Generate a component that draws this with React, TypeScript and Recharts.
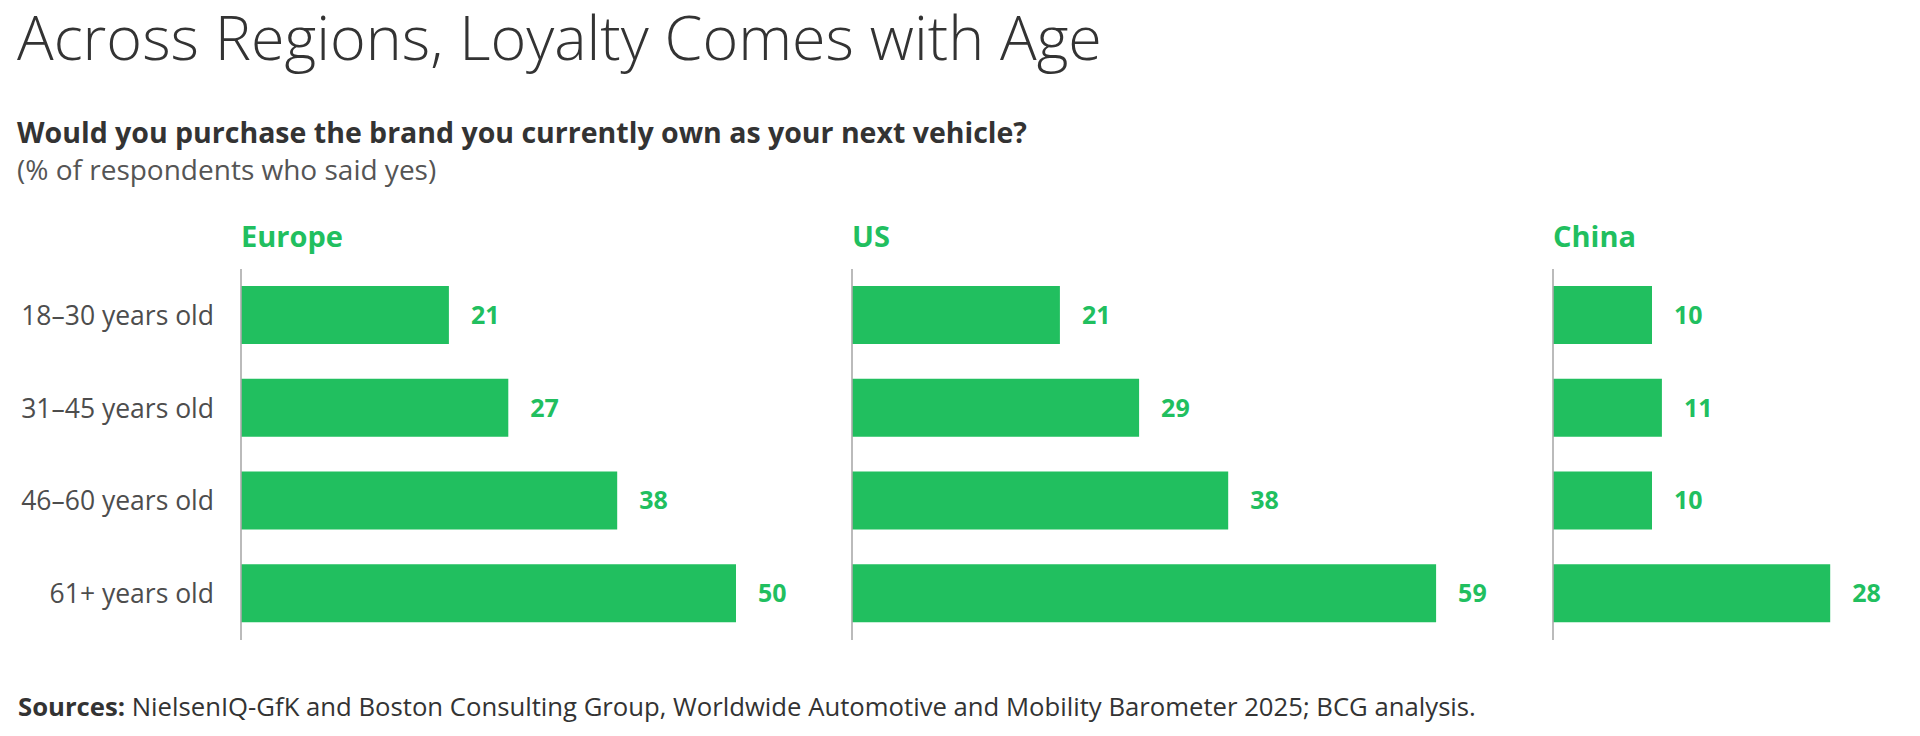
import React from 'react';
import { BarChart, Bar, XAxis, YAxis, LabelList } from 'recharts';

const ageGroups = ['18–30 years old', '31–45 years old', '46–60 years old', '61+ years old'];
const europeValues = [21, 27, 38, 50];
const usValues = [21, 29, 38, 59];
const chinaValues = [10, 11, 10, 28];
const regionNames = ['Europe', 'US', 'China'];

const GREEN = '#21BF5F';
const PX_PER_UNIT = 9.9;
const FONT = '"Open Sans", sans-serif';

type PanelProps = {
  values: number[];
  axisX: number;
  yWidth: number;
  domainMax: number;
  showLabels: boolean;
};

function Panel({ values, axisX, yWidth, domainMax, showLabels }: PanelProps) {
  const data = ageGroups.map((g, i) => ({ group: g, value: values[i] }));
  const plotW = domainMax * PX_PER_UNIT;
  const rightM = 70;
  const width = yWidth + plotW + rightM;
  return (
    <div style={{ position: 'absolute', left: axisX - yWidth, top: 269 }}>
      <BarChart
        width={width}
        height={371}
        data={data}
        layout="vertical"
        margin={{ top: 0, right: rightM, bottom: 0, left: 0 }}
        barSize={58}
      >
        <XAxis type="number" domain={[0, domainMax]} allowDataOverflow hide />
        <YAxis
          type="category"
          dataKey="group"
          width={yWidth}
          tickLine={false}
          axisLine={{ stroke: '#aaaaaa', strokeWidth: 1.6 }}
          tick={showLabels ? { fill: '#4d4d4d', fontSize: 26.5, fontFamily: FONT } : false}
          tickSize={0}
          tickMargin={27}
          interval={0}
        />
        <Bar dataKey="value" fill={GREEN} isAnimationActive={false}>
          <LabelList
            dataKey="value"
            position="right"
            offset={22}
            fill={GREEN}
            fontSize={25}
            fontWeight={700}
            fontFamily={FONT}
          />
        </Bar>
      </BarChart>
    </div>
  );
}

type TextProps = {
  x: number;
  baseline: number;
  size: number;
  weight?: number;
  color?: string;
  lineFactor?: number;
  children: React.ReactNode;
};

// Places an HTML line of Open Sans text so that its baseline lands on `baseline`.
function Line({ x, baseline, size, weight = 400, color = '#333', lineFactor = 1.4, children }: TextProps) {
  const lh = Math.ceil(size * lineFactor);
  const top = baseline - ((lh - size * 1.362) / 2 + size * 1.069);
  return (
    <div
      style={{
        position: 'absolute',
        left: x,
        top,
        fontSize: size,
        lineHeight: `${lh}px`,
        fontWeight: weight,
        color,
        fontFamily: FONT,
        whiteSpace: 'nowrap',
      }}
    >
      {children}
    </div>
  );
}

export default function App() {
  const axisXs = [241, 852, 1553];
  return (
    <div
      style={{
        position: 'absolute',
        left: 0,
        top: 0,
        width: 1920,
        height: 736,
        background: '#fff',
        fontFamily: FONT,
        overflow: 'hidden',
      }}
    >
      <Line x={17} baseline={60} size={61} weight={300} color="#333" lineFactor={1.0}>
        Across Regions, Loyalty Comes with Age
      </Line>
      <Line x={17} baseline={143} size={28.5} weight={700} color="#333">
        Would you purchase the brand you currently own as your next vehicle?
      </Line>
      <Line x={17} baseline={180} size={28} weight={400} color="#555">
        (% of respondents who said yes)
      </Line>
      {regionNames.map((r, i) => (
        <Line key={r} x={axisXs[i]} baseline={247} size={29} weight={700} color={GREEN}>
          {r}
        </Line>
      ))}
      <Line x={18} baseline={717} size={25.7} weight={400} color="#333">
        <span style={{ fontWeight: 700 }}>Sources:</span> NielsenIQ-GfK and Boston Consulting Group, Worldwide
        Automotive and Mobility Barometer 2025; BCG analysis.
      </Line>
      <Panel values={europeValues} axisX={axisXs[0]} yWidth={241} domainMax={60} showLabels />
      <Panel values={usValues} axisX={axisXs[1]} yWidth={2} domainMax={60} showLabels={false} />
      <Panel values={chinaValues} axisX={axisXs[2]} yWidth={2} domainMax={35} showLabels={false} />
    </div>
  );
}
